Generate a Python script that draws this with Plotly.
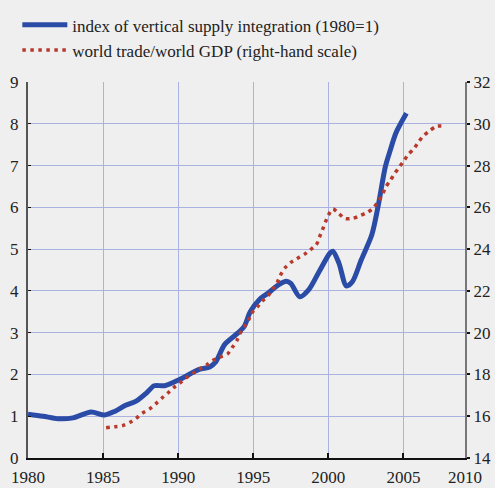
import plotly.graph_objects as go

# index of vertical supply integration (1980=1), left scale
vsi_years = [1980.0, 1981.0, 1982.0, 1983.0, 1984.2, 1985.1, 1985.8, 1986.5, 1987.2, 1987.9,
             1988.4, 1989.1, 1990.1, 1991.4, 1992.1, 1992.5, 1993.1, 1994.0, 1994.4, 1994.8,
             1995.4, 1996.0, 1996.7, 1997.2, 1997.5, 1998.1, 1998.7, 1999.4, 2000.1, 2000.3,
             2000.7, 2001.2, 2001.6, 2002.2, 2002.9, 2003.3, 2003.8, 2004.1, 2004.5, 2005.2]
vsi_values = [1.05, 1.00, 0.94, 0.96, 1.10, 1.03, 1.12, 1.26, 1.36, 1.56,
              1.73, 1.73, 1.88, 2.12, 2.18, 2.30, 2.72, 3.00, 3.15, 3.50,
              3.79, 3.95, 4.15, 4.23, 4.18, 3.86, 4.03, 4.47, 4.90, 4.95,
              4.67, 4.12, 4.22, 4.75, 5.35, 6.00, 6.98, 7.34, 7.78, 8.25]

# world trade / world GDP, right scale
trade_years = [1985.2, 1985.8, 1986.3, 1986.8, 1987.2, 1987.6, 1988.1, 1988.5, 1988.9, 1989.3,
               1989.7, 1990.1, 1990.5, 1991.0, 1991.4, 1991.9, 1992.3, 1992.8, 1993.3, 1993.6,
               1993.9, 1994.1, 1994.4, 1994.7, 1994.9, 1995.3, 1995.6, 1996.0, 1996.3, 1996.6,
               1996.8, 1997.1, 1997.5, 1997.9, 1998.4, 1998.8, 1999.2, 1999.4, 1999.6, 1999.8,
               2000.0, 2000.3, 2000.7, 2001.1, 2001.6, 2002.1, 2002.6, 2003.0, 2003.3, 2003.6,
               2003.8, 2004.1, 2004.4, 2004.7, 2005.0, 2005.3, 2005.7, 2006.0, 2006.3, 2006.7,
               2007.2, 2007.7]
trade_values = [15.45, 15.50, 15.55, 15.71, 15.90, 16.14, 16.35, 16.59, 16.86, 17.10,
                17.37, 17.58, 17.82, 18.06, 18.25, 18.46, 18.67, 18.83, 18.99, 19.29,
                19.61, 19.94, 20.27, 20.62, 20.94, 21.25, 21.51, 21.78, 22.09, 22.41,
                22.74, 23.09, 23.36, 23.54, 23.75, 23.97, 24.21, 24.56, 24.91, 25.28,
                25.62, 25.92, 25.70, 25.47, 25.47, 25.60, 25.76, 25.97, 26.26, 26.61,
                26.94, 27.26, 27.60, 27.90, 28.20, 28.51, 28.81, 29.12, 29.40, 29.64,
                29.88, 29.88]

x_tickvals = [1980, 1985, 1990, 1995, 2000, 2005, 2009.1]
x_ticktext = ["1980", "1985", "1990", "1995", "2000", "2005", "2010"]
left_ticks = [0, 1, 2, 3, 4, 5, 6, 7, 8, 9]
right_ticks = [14, 16, 18, 20, 22, 24, 26, 28, 30, 32]

BLUE = "#2b4ca6"
RED = "#b83a2c"
GRID = "#aab2e2"
BG = "#efefef"
FONT = "Liberation Serif"

fig = go.Figure()
fig.add_trace(go.Scatter(
    x=vsi_years, y=vsi_values, mode="lines",
    name="index of vertical supply integration (1980=1)",
    line=dict(color=BLUE, width=5, shape="spline", smoothing=0.8),
    yaxis="y"))
fig.add_trace(go.Scatter(
    x=trade_years, y=trade_values, mode="lines",
    name="world trade/world GDP (right-hand scale)",
    line=dict(color=RED, width=3.5, dash="3.5px,4.5px", shape="spline", smoothing=0.8),
    yaxis="y2"))

fig.update_layout(
    width=495, height=488,
    margin=dict(l=28, r=30, t=82, b=30, autoexpand=False),
    paper_bgcolor=BG, plot_bgcolor=BG,
    font=dict(family=FONT, size=17, color="#222"),
    showlegend=True,
    legend=dict(xref="container", yref="container", x=0.035, y=0.985,
                xanchor="left", yanchor="top",
                bgcolor="rgba(0,0,0,0)", font=dict(family=FONT, size=17, color="#222"),
                itemwidth=45, tracegroupgap=0),
    xaxis=dict(range=[1980, 2009.1], tickvals=x_tickvals, ticktext=x_ticktext,
               showgrid=True, gridcolor=GRID, gridwidth=1,
               showline=True, linecolor="#111", linewidth=2,
               ticks="inside", ticklen=5, tickcolor="#111", tickwidth=2,
               ticklabelstandoff=3,
               zeroline=False, fixedrange=True, automargin=False),
    yaxis=dict(range=[0, 9], tickvals=left_ticks,
               showgrid=True, gridcolor=GRID, gridwidth=1,
               showline=True, linecolor="#555", linewidth=2,
               ticks="inside", ticklen=3, tickcolor="#111",
               zeroline=False, ticklabelstandoff=4, automargin=False),
    yaxis2=dict(range=[14, 32], tickvals=right_ticks, overlaying="y", side="right",
                showgrid=False, showline=True, linecolor="#777", linewidth=2,
                ticks="outside", ticklen=3, tickcolor="#111", tickwidth=2,
                zeroline=False, automargin=False),
)

fig.write_html("out.html", config={"displayModeBar": False},
               post_script="document.body.style.margin='0';document.body.style.background='#efefef';")
